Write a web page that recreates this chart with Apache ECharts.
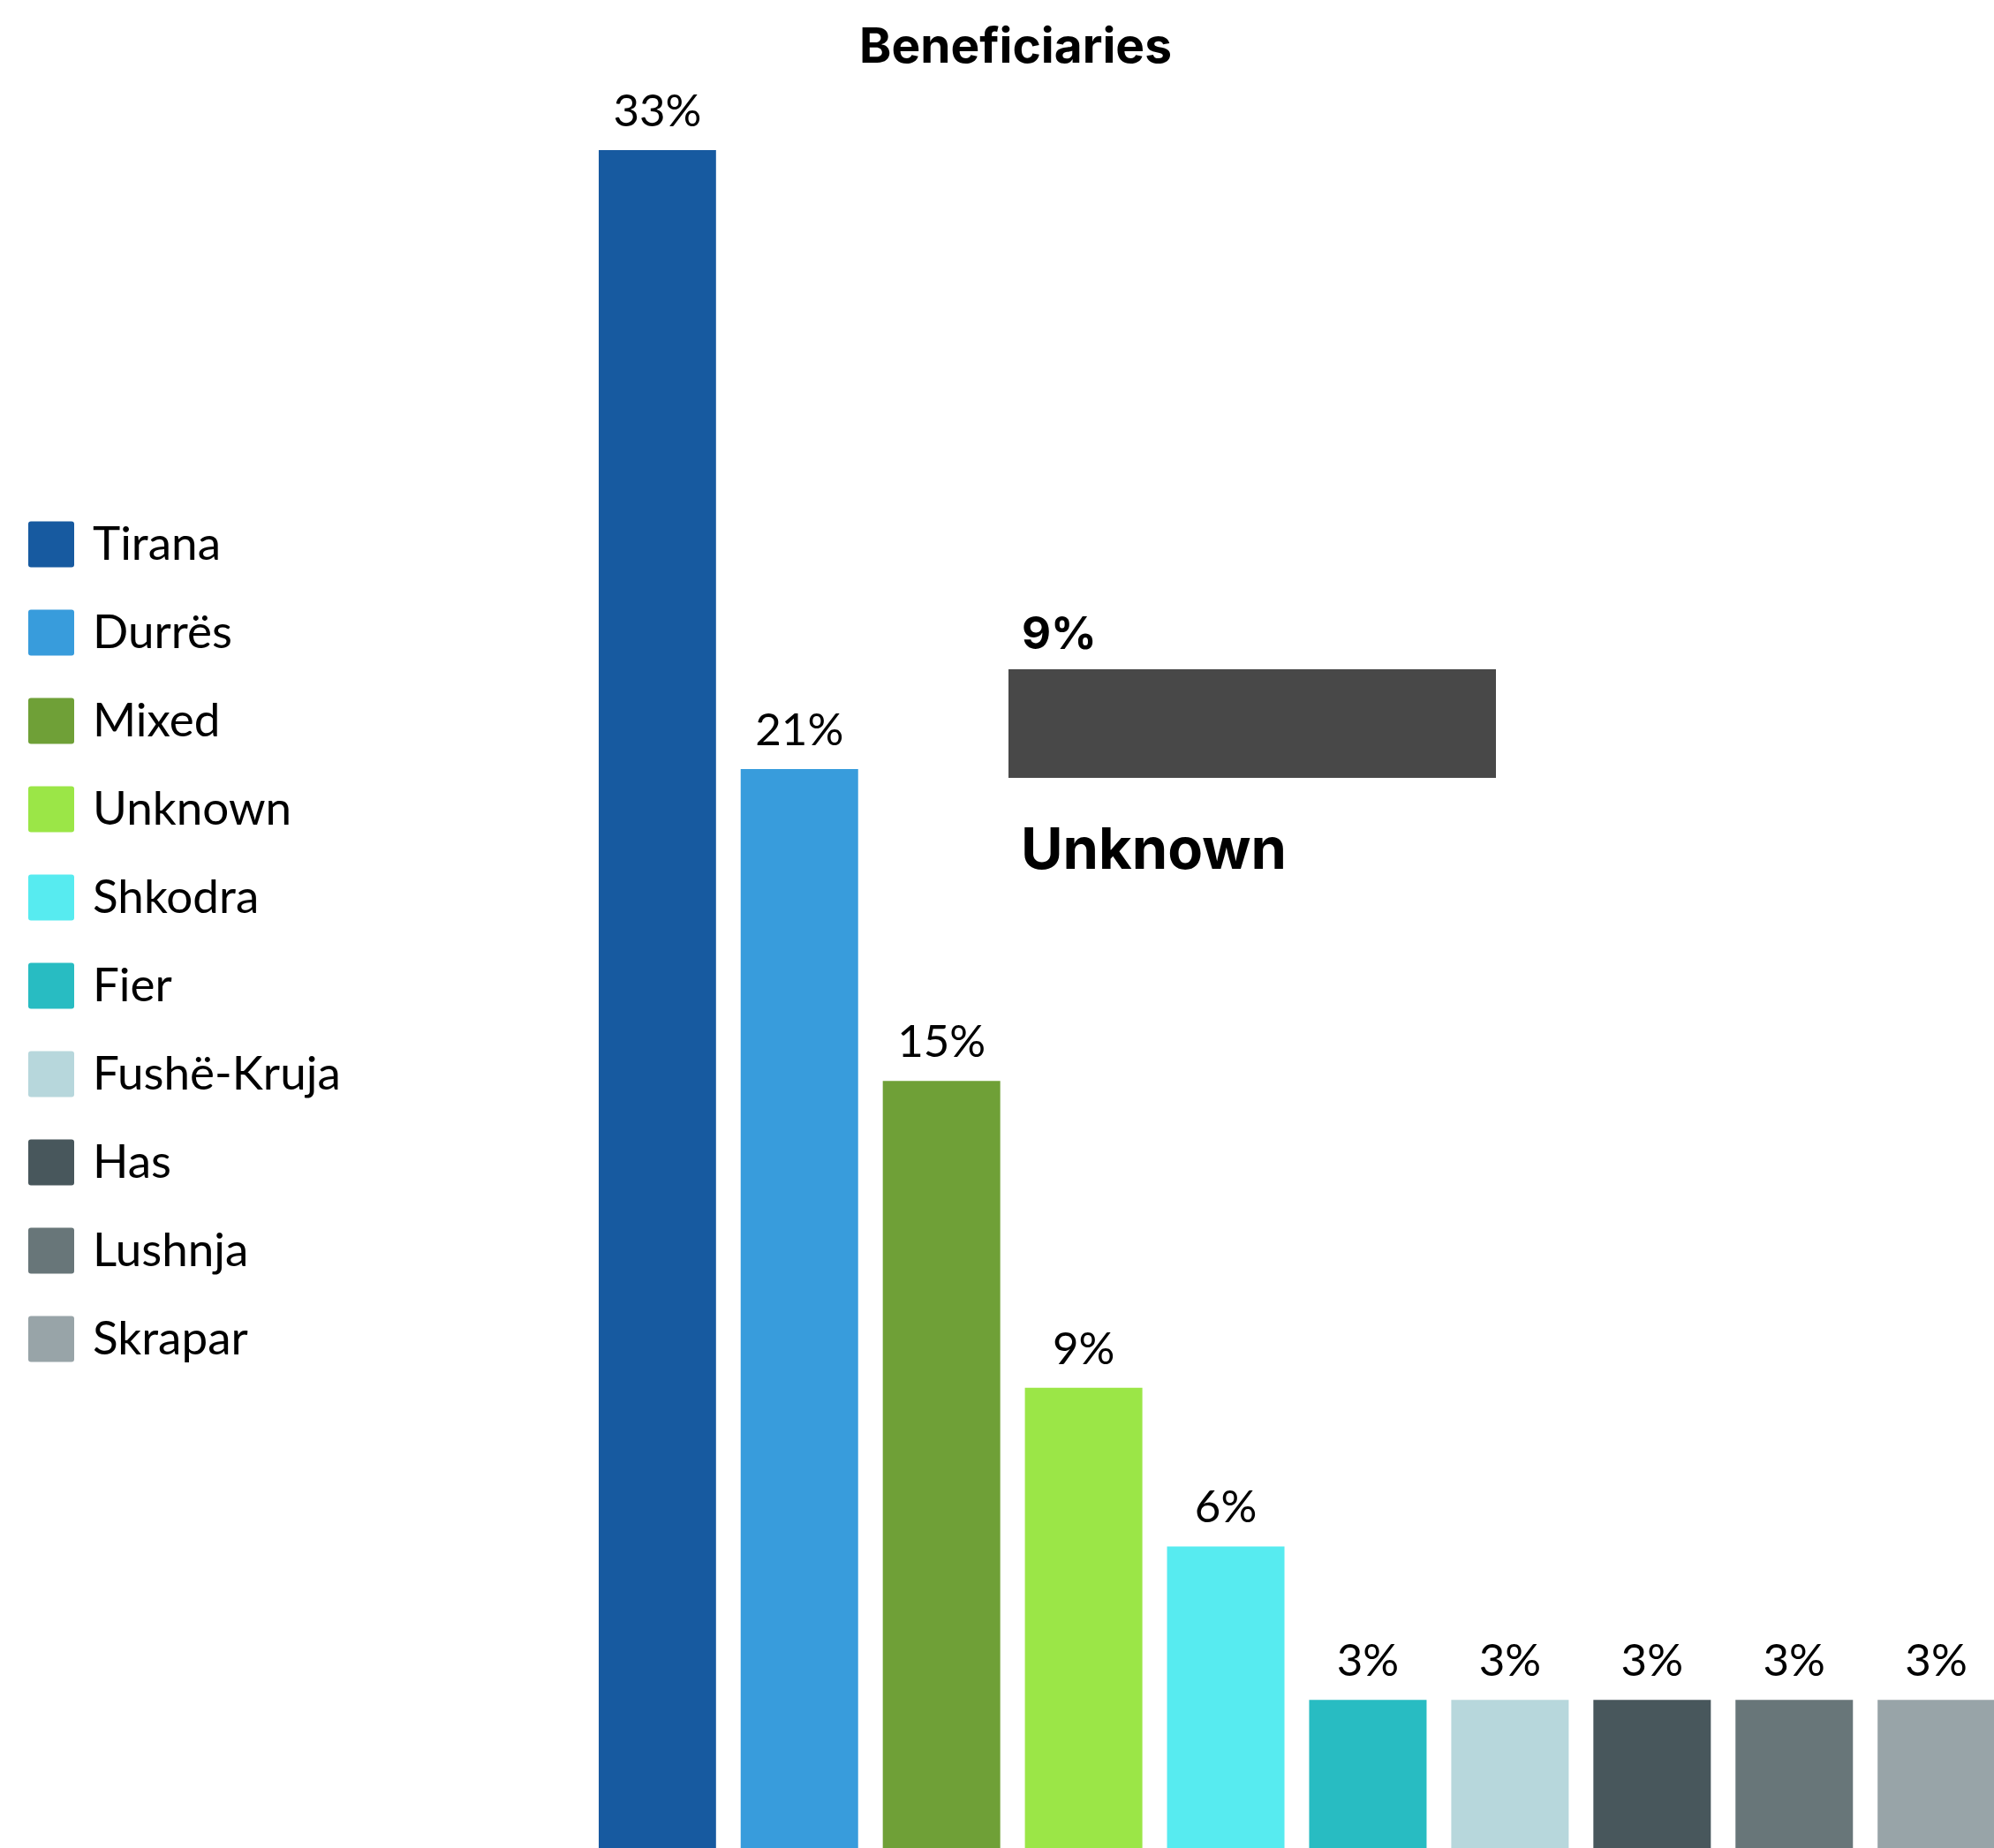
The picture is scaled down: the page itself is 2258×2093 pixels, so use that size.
<!DOCTYPE html>
<html>
<head>
<meta charset="utf-8">
<script src="https://cdn.jsdelivr.net/npm/echarts@6/dist/echarts.min.js"></script>
<style>
  html,body{margin:0;padding:0;background:#fff;}
  #box{width:2258px;height:2093px;}
</style>
</head>
<body>
<div id="box"></div>
<script>
// data (share of beneficiaries, %)
var regions = ['Tirana','Durrës','Mixed','Unknown','Shkodra','Fier','Fushë-Kruja','Has','Lushnja','Skrapar'];
var shares  = [33.3, 21.2, 15.1, 9.1, 6.0, 3.0, 3.0, 3.0, 3.0, 3.0];
var colors  = ['#175aa0','#389cdc','#6fa037','#9be647','#57ebf0','#28bcc2','#b7d7dc','#48575c','#687679','#98a4a8'];
var highlighted = 3; // the "Unknown" box drawn on the right

var myChart = echarts.init(document.getElementById('box'));

var series = regions.map(function(name,i){
  return {
    name:name,
    type:'bar',
    data:[shares[i]],
    barWidth:133,
    barGap:'21%',
    itemStyle:{color:colors[i]},
    label:{
      show:true,
      position:'top',
      distance:18,
      fontFamily:'Lato',
      fontSize:51,
      color:'#000',
      formatter:function(p){ return Math.round(p.value)+'%'; }
    }
  };
});

var option = {
  backgroundColor:'#fff',
  animation:false,
  color:colors,
  title:{
    text:'Beneficiaries',
    left:1145,
    textAlign:'center',
    top:22,
    textStyle:{fontFamily:'Inter',fontWeight:700,fontSize:55,color:'#000'}
  },
  legend:{
    orient:'vertical',
    left:27,
    top:585,
    itemWidth:52,
    itemHeight:52,
    itemGap:47,
    icon:'path://M3,0 H49 Q52,0 52,3 V49 Q52,52 49,52 H3 Q0,52 0,49 V3 Q0,0 3,0 Z',
    textStyle:{fontFamily:'Lato',fontSize:53,lineHeight:52,color:'#000',padding:[0,0,0,16]},
    data:regions
  },
  grid:{left:678,width:1581,top:170,height:1929,outerBoundsMode:'none',containLabel:false},
  xAxis:{type:'category',data:[''],show:false},
  yAxis:{type:'value',min:0,max:shares[0],show:false,splitLine:{show:false}},
  graphic:[
    {type:'text',left:1157,top:694,style:{text:Math.round(shares[highlighted])+'%',fontFamily:'Inter',fontWeight:700,fontSize:51,fill:'#000'}},
    {type:'rect',left:1142,top:758,shape:{width:552,height:123},style:{fill:'#484848'}},
    {type:'text',left:1156,top:932,style:{text:regions[highlighted],fontFamily:'Inter',fontWeight:700,fontSize:65,fill:'#000'}}
  ],
  series:series
};

myChart.setOption(option);
</script>
</body>
</html>
